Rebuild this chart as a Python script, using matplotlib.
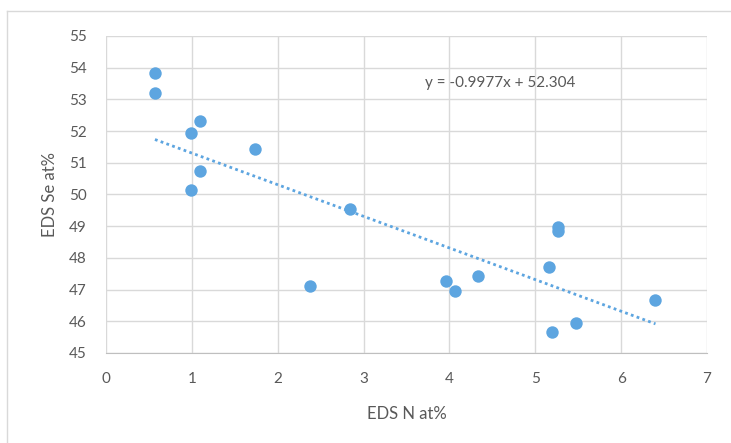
import numpy as np
import matplotlib
matplotlib.use('Agg')
from matplotlib import pyplot as plt
from matplotlib.lines import Line2D

# data
eds_n = [0.57, 0.57, 1.09, 0.99, 1.73, 1.09, 0.99, 2.84, 2.38,
         5.26, 5.26, 5.16, 3.96, 4.06, 4.33, 6.40, 5.47, 5.20]
eds_se = [53.82, 53.20, 52.33, 51.93, 51.45, 50.75, 50.14, 49.54, 47.12,
          48.99, 48.86, 47.72, 47.27, 46.96, 47.43, 46.66, 45.96, 45.65]
slope = -0.9977
intercept = 52.304

plt.rcParams['font.family'] = ['Lato', 'DejaVu Sans']
gray = '#595959'
blue = '#5DA5E0'

fig = plt.figure(figsize=(7.31, 4.43), dpi=100)
ax = fig.add_axes([106/731, 1-353/443, (707-106)/731, (353-36)/443])

ax.scatter(eds_n, eds_se, s=80, color=blue, zorder=3, linewidths=0)

xt = np.array([min(eds_n), max(eds_n)])
ax.plot(xt, slope*xt + intercept, color=blue, lw=2, ls=(0, (1, 1.2)), zorder=2)
ax.text(4.59, 53.52, 'y = -0.9977x + 52.304', ha='center', va='center',
        fontsize=11, color=gray)

ax.set_xlim(0, 7)
ax.set_ylim(45, 55)
ax.set_xticks(range(0, 8))
ax.set_yticks(range(45, 56))
ax.grid(True, color='#D9D9D9', lw=1)
ax.set_axisbelow(True)
for s in ['top', 'right', 'left']:
    ax.spines[s].set_visible(False)
ax.spines['bottom'].set_color('#BFBFBF')
ax.tick_params(axis='y', length=0, labelsize=11, colors=gray, pad=14)
ax.tick_params(axis='x', length=0, labelsize=11, colors=gray, pad=14)
ax.set_xlabel('EDS N at%', fontsize=12, color=gray, labelpad=14)
ax.set_ylabel('EDS Se at%', fontsize=12, color=gray, labelpad=8)

# chart area border (top and left edges only visible)
bx, by = 7/731, 1-11/443
fig.lines.append(Line2D([bx, 1], [by, by], transform=fig.transFigure, color='#D9D9D9', lw=1))
fig.lines.append(Line2D([bx, bx], [0, by], transform=fig.transFigure, color='#D9D9D9', lw=1))

fig.savefig('out.png', dpi=100)
